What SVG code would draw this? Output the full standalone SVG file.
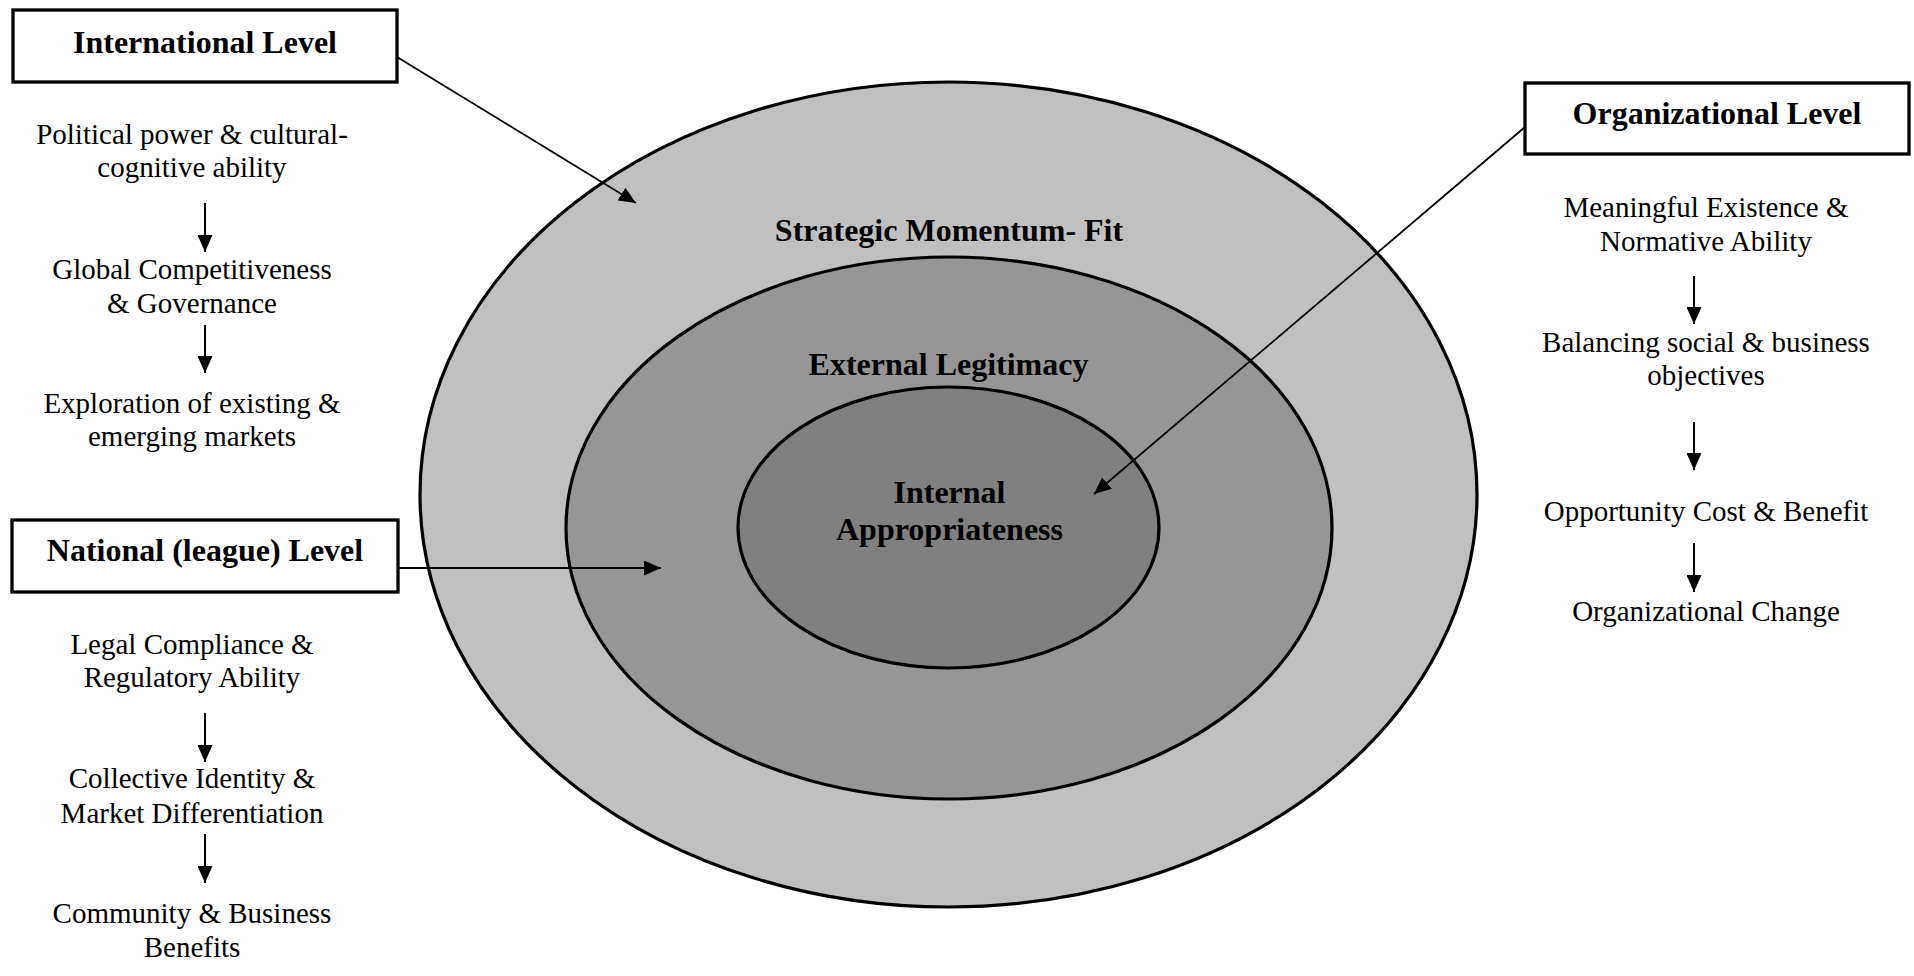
<svg xmlns="http://www.w3.org/2000/svg" width="1914" height="976" viewBox="0 0 1914 976">
<style>
.reg{font-family:"Liberation Serif","Times New Roman",serif;font-size:29px;fill:#000;text-anchor:middle}
.bold{font-family:"Liberation Serif","Times New Roman",serif;font-size:32px;font-weight:bold;fill:#000;text-anchor:middle}
.box{fill:#fff;stroke:#000;stroke-width:3.3}
.ell{stroke:#000;stroke-width:3.2}
.con{stroke:#000;fill:none}
</style>
<defs>
<marker id="ah" markerUnits="userSpaceOnUse" markerWidth="17" markerHeight="15" refX="17" refY="7.5" orient="auto" viewBox="0 0 17 15">
<path d="M0,0 L17,7.5 L0,15 z" fill="#000"/>
</marker>
</defs>
<rect width="1914" height="976" fill="#fff"/>
<g id="circles">
<ellipse id="strategic" class="ell" cx="948.5" cy="494.5" rx="528.5" ry="412.5" fill="#c0c0c0"/>
<ellipse id="external" class="ell" cx="949" cy="528" rx="383" ry="271" fill="#969696"/>
<ellipse id="internal" class="ell" cx="948.5" cy="527.5" rx="210.5" ry="140.5" fill="#808080"/>
<text class="bold" x="949" y="241">Strategic Momentum- Fit</text>
<text class="bold" x="948.5" y="375">External Legitimacy</text>
<text class="bold" x="949.5" y="503">Internal</text>
<text class="bold" x="949.5" y="540">Appropriateness</text>
</g>
<g id="connectors">
<line class="con" stroke-width="1.8" x1="397" y1="57" x2="636" y2="203" marker-end="url(#ah)"/>
<line class="con" stroke-width="2" x1="398" y1="568" x2="661" y2="568" marker-end="url(#ah)"/>
<line class="con" stroke-width="1.8" x1="1525" y1="127" x2="1094" y2="494" marker-end="url(#ah)"/>
<line class="con" stroke-width="2" x1="205" y1="203" x2="205" y2="252" marker-end="url(#ah)"/>
<line class="con" stroke-width="2" x1="205" y1="325" x2="205" y2="373" marker-end="url(#ah)"/>
<line class="con" stroke-width="2" x1="205" y1="713" x2="205" y2="762" marker-end="url(#ah)"/>
<line class="con" stroke-width="2" x1="205" y1="834" x2="205" y2="883" marker-end="url(#ah)"/>
<line class="con" stroke-width="2" x1="1694" y1="276" x2="1694" y2="324" marker-end="url(#ah)"/>
<line class="con" stroke-width="2" x1="1694" y1="422" x2="1694" y2="470" marker-end="url(#ah)"/>
<line class="con" stroke-width="2" x1="1694" y1="543" x2="1694" y2="592" marker-end="url(#ah)"/>
</g>
<g id="international">
<rect class="box" x="13" y="10" width="384" height="72"/>
<text class="bold" x="205" y="53">International Level</text>
<text class="reg" x="192" y="144">Political power &amp; cultural-</text>
<text class="reg" x="192" y="177">cognitive ability</text>
<text class="reg" x="192" y="279">Global Competitiveness</text>
<text class="reg" x="192" y="313">&amp; Governance</text>
<text class="reg" x="192" y="413">Exploration of existing &amp;</text>
<text class="reg" x="192" y="446">emerging markets</text>
</g>
<g id="national">
<rect class="box" x="12" y="520" width="386" height="72"/>
<text class="bold" x="205" y="561">National (league) Level</text>
<text class="reg" x="192" y="654">Legal Compliance &amp;</text>
<text class="reg" x="192" y="687">Regulatory Ability</text>
<text class="reg" x="192" y="788">Collective Identity &amp;</text>
<text class="reg" x="192" y="823">Market Differentiation</text>
<text class="reg" x="192" y="923">Community &amp; Business</text>
<text class="reg" x="192" y="957">Benefits</text>
</g>
<g id="organizational">
<rect class="box" x="1525" y="83" width="384" height="71"/>
<text class="bold" x="1717" y="124">Organizational Level</text>
<text class="reg" x="1706" y="217">Meaningful Existence &amp;</text>
<text class="reg" x="1706" y="251">Normative Ability</text>
<text class="reg" x="1706" y="352">Balancing social &amp; business</text>
<text class="reg" x="1706" y="385">objectives</text>
<text class="reg" x="1706" y="521">Opportunity Cost &amp; Benefit</text>
<text class="reg" x="1706" y="621">Organizational Change</text>
</g>
</svg>
